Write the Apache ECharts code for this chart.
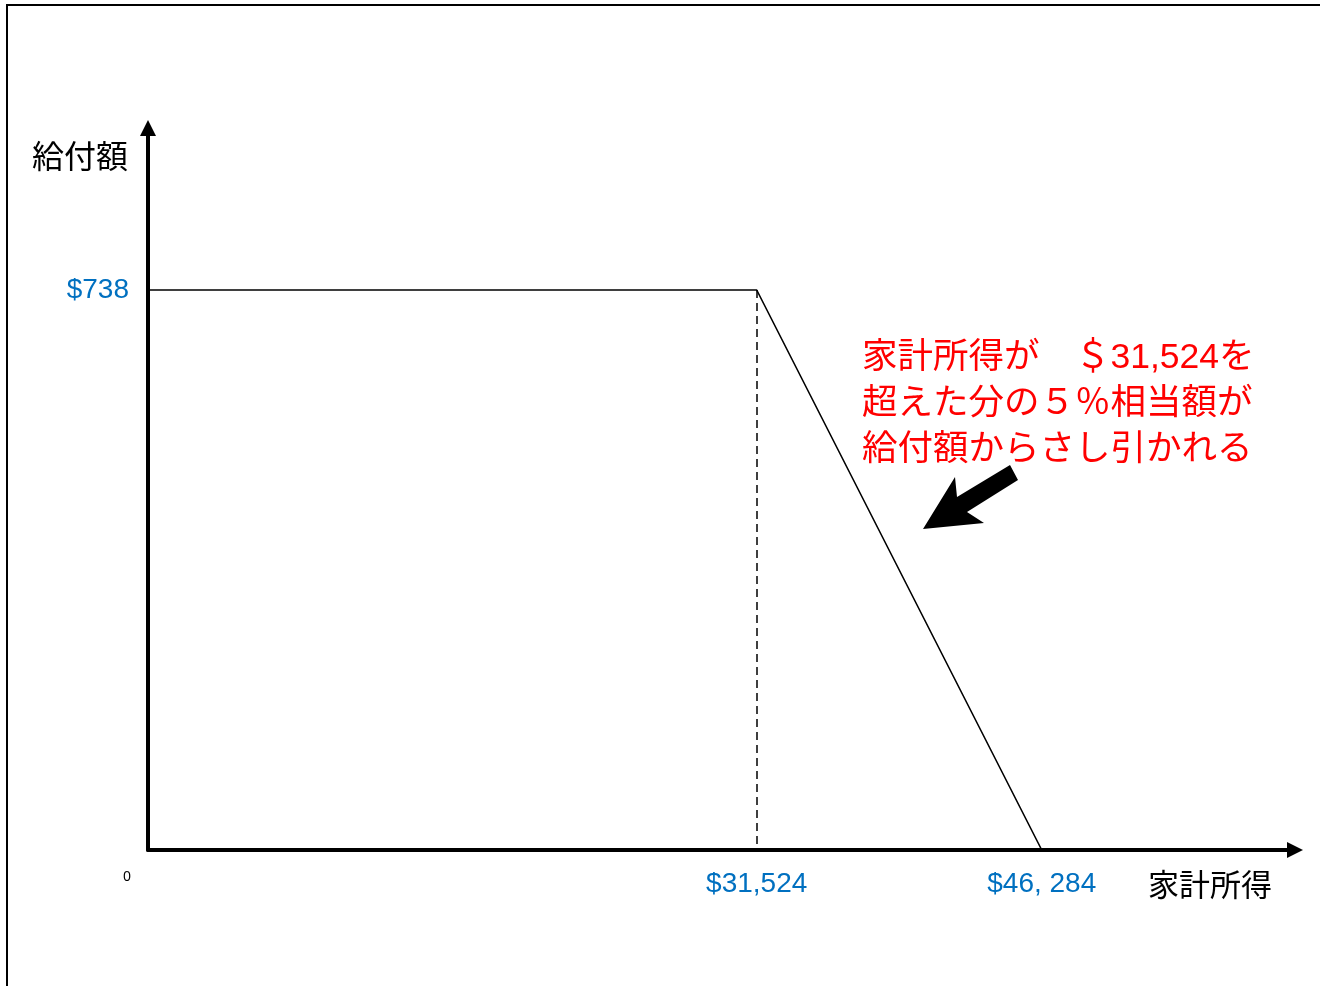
<!DOCTYPE html>
<html>
<head>
<meta charset="utf-8">
<script src="https://cdn.jsdelivr.net/npm/echarts@6/dist/echarts.min.js"></script>
<style>
html, body { margin: 0; padding: 0; background: #fff; }
#chart { width: 1320px; height: 986px; }
</style>
</head>
<body>
<div id="chart"></div>
<script>
// 給付額と家計所得の関係（模式図）
var incomePoints = [0, 31524, 46284];
var benefitPoints = [738, 738, 0];
var xTickValues = [0, 31524, 46284];
var xTickLabels = ['0', '$31,524', '$46, 284'];
var yTickValues = [738];
var yTickLabels = ['$738'];
var noteLines = ['家計所得が　＄31,524を', '超えた分の５％相当額が', '給付額からさし引かれる'];

var myChart = echarts.init(document.getElementById('chart'));

var lineData = [];
for (var i = 0; i < incomePoints.length; i++) {
	lineData.push([incomePoints[i], benefitPoints[i]]);
}

var blue = '#0070C0';
var latin = 'Liberation Sans, Arial, Noto Sans CJK JP, sans-serif';
var cjk = 'Noto Sans CJK JP, sans-serif';

option = {
	backgroundColor : '#fff',
	animation : false,
	grid : {
		left : 148,
		right : 25,
		top : 128,
		bottom : 136
	},
	xAxis : {
		type : 'value',
		min : 0,
		max : 59400,
		name : '家計所得',
		nameLocation : 'end',
		nameGap : -147,
		nameTextStyle : {
			color : '#000',
			fontSize : 31,
			fontFamily : cjk,
			align : 'left',
			verticalAlign : 'top',
			padding : [ 19, 0, 0, 0 ]
		},
		axisLine : {
			lineStyle : { color : '#000', width : 4 },
			symbol : [ 'none', 'triangle' ],
			symbolSize : [ 16, 16 ]
		},
		axisTick : { show : false },
		splitLine : { show : false },
		axisLabel : {
			customValues : xTickValues,
			margin : 20,
			formatter : function(v) {
				var k = xTickValues.indexOf(v);
				if (k == 0) return '{z|' + xTickLabels[k] + '}';
				return k >= 0 ? xTickLabels[k] : '';
			},
			color : blue,
			fontSize : 28,
			fontFamily : latin,
			rich : {
				z : { color : '#000', fontSize : 14, fontFamily : 'Noto Sans', padding : [ 0, 42, 0, 0 ] }
			}
		}
	},
	yAxis : {
		type : 'value',
		min : 0,
		max : 951.5,
		name : '給付額',
		nameLocation : 'end',
		nameGap : -12,
		nameTextStyle : {
			color : '#000',
			fontSize : 32,
			fontFamily : cjk,
			align : 'right',
			verticalAlign : 'top',
			padding : [ 0, 20, 0, 0 ]
		},
		axisLine : {
			lineStyle : { color : '#000', width : 4 },
			symbol : [ 'none', 'triangle' ],
			symbolSize : [ 16, 16 ]
		},
		axisTick : { show : false },
		splitLine : { show : false },
		axisLabel : {
			customValues : yTickValues,
			margin : 19,
			formatter : function(v) {
				var k = yTickValues.indexOf(v);
				return k >= 0 ? yTickLabels[k] : '';
			},
			color : blue,
			fontSize : 28,
			fontFamily : latin
		}
	},
	series : [ {
		name : '給付額',
		type : 'line',
		data : lineData,
		symbol : 'none',
		lineStyle : { color : '#000', width : 1.6 },
		markLine : {
			silent : true,
			symbol : [ 'none', 'none' ],
			label : { show : false },
			lineStyle : { color : '#000', width : 1.5, type : [ 8, 5 ] },
			data : [ [ { coord : [ incomePoints[1], benefitPoints[1] ] }, { coord : [ incomePoints[1], 0 ] } ] ]
		}
	} ],
	graphic : [ {
		// 外枠
		type : 'rect',
		shape : { x : 7, y : 5, width : 1400, height : 1100 },
		style : { fill : 'none', stroke : '#000', lineWidth : 2 },
		silent : true
	}, {
		type : 'text',
		left : 862,
		top : 335,
		style : {
			text : noteLines.join('\n'),
			fill : '#FF0000',
			fontSize : 35.5,
			lineHeight : 46,
			fontFamily : latin
		}
	}, {
		// 注記の矢印
		type : 'polygon',
		shape : {
			points : [ [ 1010, 465 ], [ 957, 497 ], [ 955, 477 ], [ 923, 529 ], [ 984, 523 ], [ 967, 512 ], [ 1018, 480 ] ]
		},
		style : { fill : '#000' },
		silent : true
	} ]
};

myChart.setOption(option);
</script>
</body>
</html>
